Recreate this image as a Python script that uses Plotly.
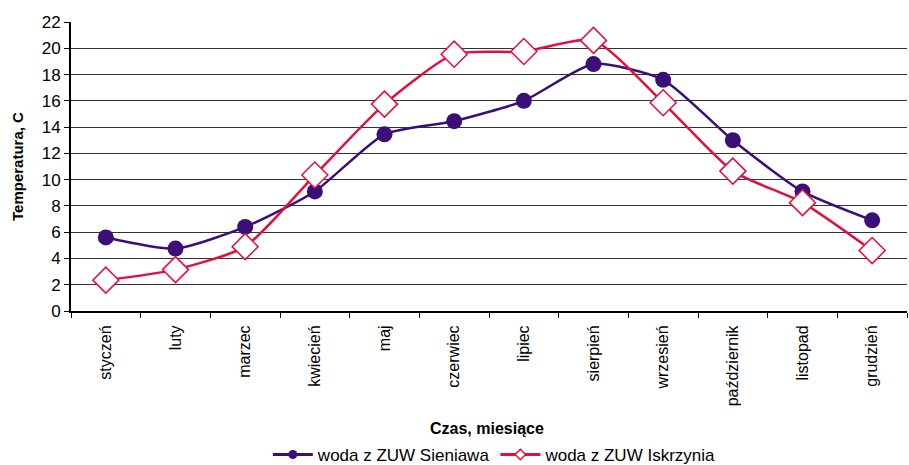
import plotly.graph_objects as go

months = ["styczeń", "luty", "marzec", "kwiecień", "maj", "czerwiec", "lipiec",
          "sierpień", "wrzesień", "październik", "listopad", "grudzień"]
sieniawa = [5.6, 4.75, 6.4, 9.1, 13.45, 14.45, 16.0, 18.8, 17.6, 13.0, 9.1, 6.9]
iskrzynia = [2.35, 3.15, 4.9, 10.35, 15.75, 19.55, 19.75, 20.6, 15.85, 10.65, 8.25, 4.6]
y_ticks = list(range(0, 23, 2))

PURPLE = "#3A0F78"
RED = "#E0103C"

fig = go.Figure()
fig.add_trace(go.Scatter(
    x=months, y=sieniawa, name="woda z ZUW Sieniawa", mode="lines+markers",
    line=dict(color=PURPLE, width=2.5, shape="spline", smoothing=0.6),
    marker=dict(symbol="circle", size=16, color=PURPLE), showlegend=False,
))
fig.add_trace(go.Scatter(
    x=months, y=iskrzynia, name="woda z ZUW Iskrzynia", mode="lines+markers",
    line=dict(color=RED, width=2.5, shape="spline", smoothing=0.6),
    marker=dict(symbol="diamond", size=20, color="white",
                line=dict(color=RED, width=1.5)), showlegend=False,
))
# legend entries with small symbols
fig.add_trace(go.Scatter(
    x=[None], y=[None], name="woda z ZUW Sieniawa", mode="lines+markers",
    line=dict(color=PURPLE, width=3), marker=dict(symbol="circle", size=9, color=PURPLE),
))
fig.add_trace(go.Scatter(
    x=[None], y=[None], name="woda z ZUW Iskrzynia", mode="lines+markers",
    line=dict(color=RED, width=3),
    marker=dict(symbol="diamond", size=8, color="white", line=dict(color=RED, width=1.5)),
))

fig.update_layout(
    width=909, height=465,
    margin=dict(l=71, r=2, t=22, b=154, autoexpand=False),
    paper_bgcolor="white", plot_bgcolor="white",
    font=dict(family="Liberation Sans, Arial, sans-serif", color="black"),
    showlegend=True,
    legend=dict(orientation="h", x=0.507, xanchor="center", y=-0.498, yanchor="middle",
                font=dict(size=17), itemsizing="trace", itemwidth=40, tracegroupgap=0),
    xaxis=dict(
        type="category", tickangle=-90, tickson="boundaries",
        ticks="outside", ticklen=5, tickcolor="black",
        showline=True, linecolor="black", linewidth=2, ticklabelstandoff=6,
        showgrid=False, tickfont=dict(size=16), range=[-0.5, 11.5],
    ),
    yaxis=dict(
        range=[0, 22], tickvals=y_ticks, ticks="outside", ticklen=5, tickcolor="black",
        showline=True, linecolor="black", linewidth=2,
        showgrid=True, gridcolor="#333333", gridwidth=1,
        tickfont=dict(size=17), zeroline=False,
    ),
    annotations=[
        dict(text="<b>Czas, miesiące</b>", xref="paper", yref="paper",
             x=0.498, y=-0.405, xanchor="center", yanchor="middle",
             showarrow=False, font=dict(size=16)),
        dict(text="<b>Temperatura, C</b>", xref="paper", yref="paper",
             x=-0.064, y=0.5, xanchor="center", yanchor="middle", textangle=-90,
             showarrow=False, font=dict(size=15)),
    ],
)

fig.write_html("out.html", config={"displayModeBar": False},
               post_script="document.body.style.margin='0';document.body.style.overflow='hidden';")
